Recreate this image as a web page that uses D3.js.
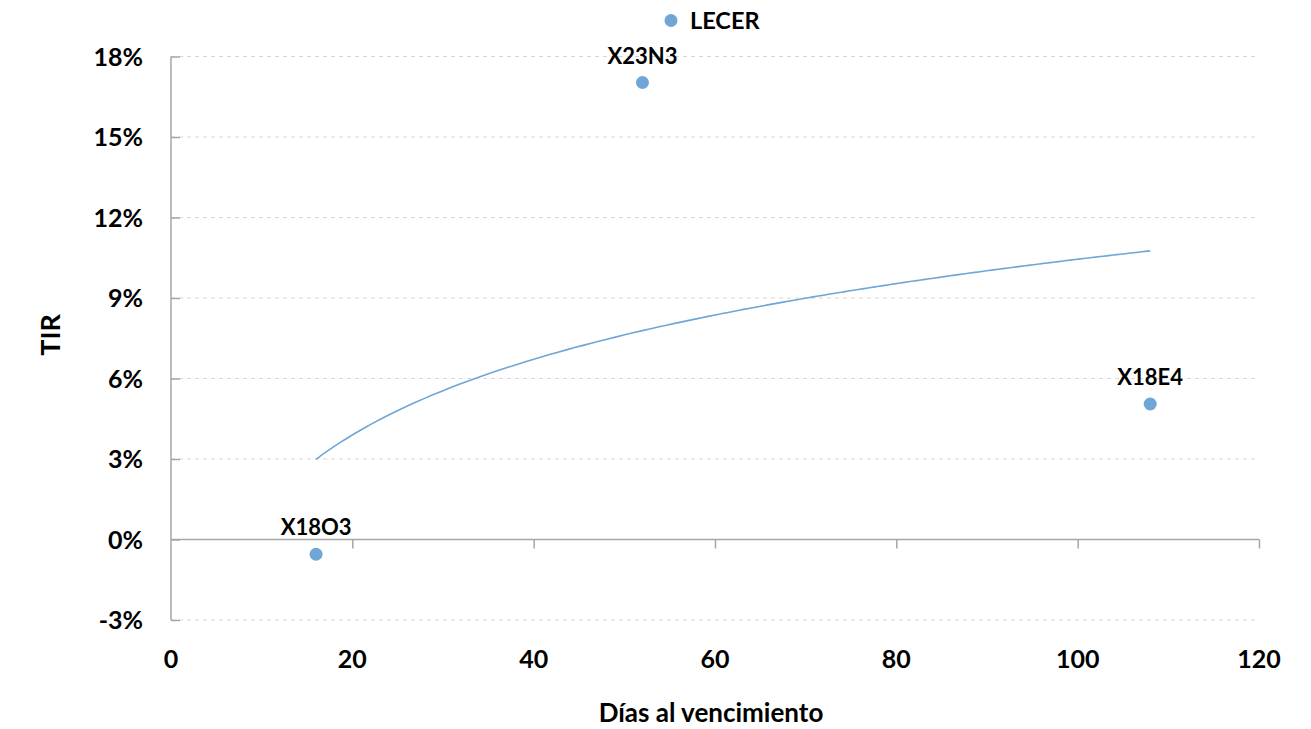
<!DOCTYPE html>
<html><head><meta charset="utf-8">
<script src="https://cdn.jsdelivr.net/npm/d3@7"></script>
<style>
html,body{margin:0;padding:0;background:#fff;}
text{font-family:Lato,"Open Sans",sans-serif;font-weight:bold;fill:#000;}
</style></head>
<body><svg id="c" width="1311" height="729"></svg>
<script>
const bondNames = ["X18O3", "X23N3", "X18E4"];
const days = [16, 52, 108];
const tir = [-0.55, 17.03, 5.05];
const yTicks = [-3, 0, 3, 6, 9, 12, 15, 18];
const xTicks = [0, 20, 40, 60, 80, 100, 120];
const seriesName = "LECER";

const color = "#6fa6d6";
const svg = d3.select("#c");
const x = d3.scaleLinear().domain([0, 120]).range([171, 1259]);
const y = d3.scaleLinear().domain([-3, 18]).range([620, 56.5]);

// grid
svg.append("g").selectAll("line").data(yTicks.filter(d => d !== 0)).join("line")
  .attr("x1", x(0)).attr("x2", x(120)).attr("y1", d => y(d)).attr("y2", d => y(d))
  .attr("stroke", "#d6d6d6").attr("stroke-width", 1.2).attr("stroke-dasharray", "4,4");

// y axis
const yAxis = d3.axisRight(y).tickValues(yTicks).tickSize(9).tickFormat("");
const gy = svg.append("g").attr("transform", `translate(${x(0)},0)`).call(yAxis);
gy.selectAll("path,line").attr("stroke", "#a6a6a6").attr("stroke-width", 1.5);
gy.select(".domain").attr("d", `M0,${y(18)}V${y(-3)}`);
svg.append("g").selectAll("text").data(yTicks).join("text")
  .attr("x", 143).attr("y", d => y(d)).attr("dy", "0.36em").attr("text-anchor", "end")
  .style("font-size", "25px").text(d => d + "%");

// x axis at 0%
const xAxis = d3.axisBottom(x).tickValues(xTicks).tickSize(9).tickFormat("");
const gx = svg.append("g").attr("transform", `translate(0,${y(0)})`).call(xAxis);
gx.selectAll("path,line").attr("stroke", "#a6a6a6").attr("stroke-width", 1.5);
gx.select(".domain").attr("d", `M${x(0)},0H${x(120)}`);
gx.selectAll(".tick").filter(d => d === 0).select("line").remove();
svg.append("g").selectAll("text").data(xTicks).join("text")
  .attr("x", d => x(d)).attr("y", 668).attr("text-anchor", "middle")
  .style("font-size", "25px").text(d => d);

// axis titles
svg.append("text").attr("x", 711).attr("y", 722).attr("text-anchor", "middle")
  .style("font-size", "26px").text("Días al vencimiento");
svg.append("text").attr("transform", "translate(60,335) rotate(-90)").attr("text-anchor", "middle")
  .style("font-size", "27px").text("TIR");

// logarithmic trendline (least squares on ln(days))
const lx = days.map(Math.log);
const mx = d3.mean(lx), my = d3.mean(tir);
const b = d3.sum(lx.map((v, i) => (v - mx) * (tir[i] - my))) / d3.sum(lx.map(v => (v - mx) ** 2));
const a = my - b * mx;
const xmin = d3.min(days), xmax = d3.max(days);
const trend = d3.range(0, 101).map(i => xmin + (xmax - xmin) * i / 100).map(d => [d, a + b * Math.log(d)]);
svg.append("path").datum(trend)
  .attr("d", d3.line().x(d => x(d[0])).y(d => y(d[1])).curve(d3.curveMonotoneX))
  .attr("fill", "none").attr("stroke", color).attr("stroke-width", 1.6);

// points
const pts = days.map((d, i) => ({d, v: tir[i], n: bondNames[i]}));
svg.append("g").selectAll("circle").data(pts).join("circle")
  .attr("cx", p => x(p.d)).attr("cy", p => y(p.v)).attr("r", 6.5).attr("fill", color);
svg.append("g").selectAll("text").data(pts).join("text")
  .attr("x", p => x(p.d)).attr("y", p => y(p.v) - 19).attr("text-anchor", "middle")
  .style("font-size", "22px").text(p => p.n);

// legend
svg.append("circle").attr("cx", 671).attr("cy", 20.5).attr("r", 6.5).attr("fill", color);
svg.append("text").attr("x", 690).attr("y", 29)
  .style("font-size", "23.5px").text(seriesName);
</script></body></html>
